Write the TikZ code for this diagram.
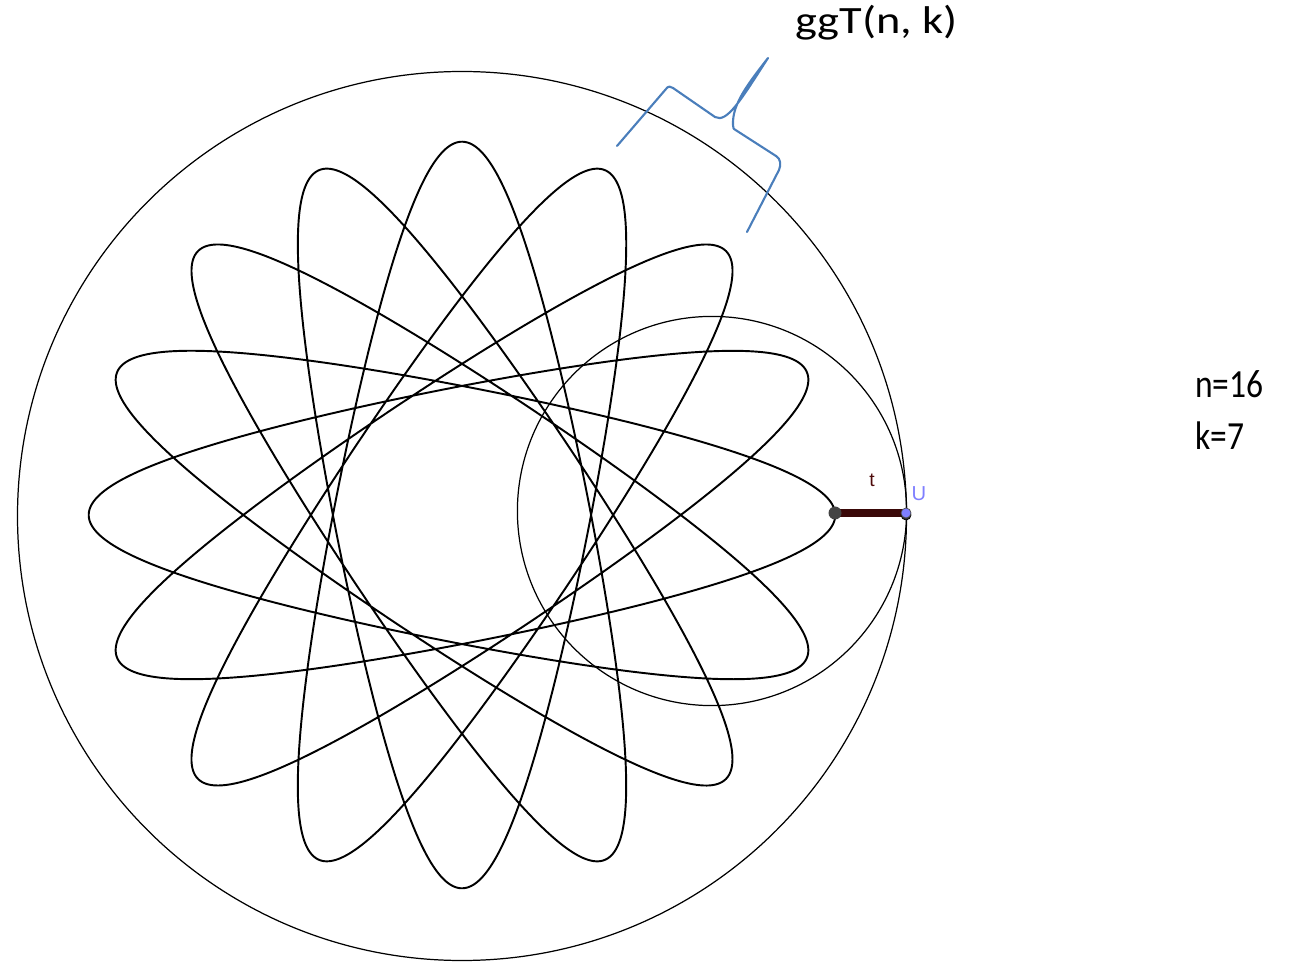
\documentclass[tikz,border=0pt]{standalone}
\usepackage{fontspec}
\usepackage{graphicx}
\usetikzlibrary{calc}
\setmainfont{Carlito}
\newfontfamily\ggbfont{Liberation Sans}
\definecolor{bracecol}{HTML}{4A7EBB}
\definecolor{barcol}{HTML}{3A0808}
\definecolor{ucol}{HTML}{7F7FFF}
\definecolor{tcol}{HTML}{4D0A0A}
\definecolor{pencol}{HTML}{444444}
\tikzset{
  thincircle/.style={draw=black, line width=0.7pt},
  curvestyle/.style={draw=black, line width=1.1pt, line join=round},
  bracestyle/.style={draw=bracecol, line width=1.2pt, line join=round, line cap=round},
  bigtext/.style={font=\fontsize{22}{26}\selectfont, inner sep=0pt, anchor=base west},
  sidetext/.style={font=\fontsize{22.7}{26}\selectfont, inner sep=0pt, anchor=base west},
}
\begin{document}
\begin{tikzpicture}[x=0.02cm, y=-0.02cm]
\useasboundingbox (0,0) rectangle (1305,962);
% big fixed circle
\coordinate (C) at (462,516);
\draw[thincircle] (C) circle[radius=444.5];
% rolling circle
\coordinate (M) at (712,511);
\draw[thincircle] (M) circle[radius=194.6];
% hypotrochoid n=16, k=7
\draw[curvestyle] plot[domain=0:2520, samples=2200, variable=\t]
  ({462 + 250*cos(\t) + 123.3*cos(9/7*\t)}, {515 + 250*sin(\t) - 123.3*sin(9/7*\t)}) -- cycle;
% pen arm
\coordinate (P) at (835,513);
\coordinate (U) at (906,513);
\draw[barcol, line width=5pt] (P) -- (U);
\fill[pencol] (P) circle[radius=6.5];
\draw[black, fill=black!80] ($(U)+(0,2)$) circle[radius=5];
\filldraw[draw=black!70, fill=ucol, line width=0.4pt] (U) circle[radius=5];
\node[tcol, font=\ggbfont\fontsize{11}{13}\selectfont, inner sep=0pt] (tl) at (872,480) {t};
\node[ucol, font=\ggbfont\fontsize{11.5}{13}\selectfont, inner sep=0pt] (ul) at (919,494) {U};
% brace
\coordinate (b1) at (617,146);
\coordinate (b2) at (669,87);
\coordinate (b3) at (715,117);
\coordinate (tip) at (768,58);
\coordinate (b4) at (734,129);
\coordinate (b5) at (778,158);
\coordinate (b6) at (747,232);
\draw[bracestyle] (b1) -- (666,89) .. controls (668,86) and (671,86) .. (673,88) -- (b3)
  .. controls (727,124) and (742,98) .. (tip)
  .. controls (748,84) and (732,104) .. (733,125) .. controls (733,128) and (734,129) .. (b4)
  -- (776,156) .. controls (781,159) and (781,165) .. (779,170) -- (b6);
% labels
\node[bigtext] (g) at (795,34) {\scalebox{1.2}[1]{ggT(n, k)}};
\node[sidetext] (n) at (1195,398) {\scalebox{0.84}[1]{n=16}};
\node[sidetext] (k) at (1195,450) {\scalebox{0.84}[1]{k=7}};
\end{tikzpicture}
\end{document}
